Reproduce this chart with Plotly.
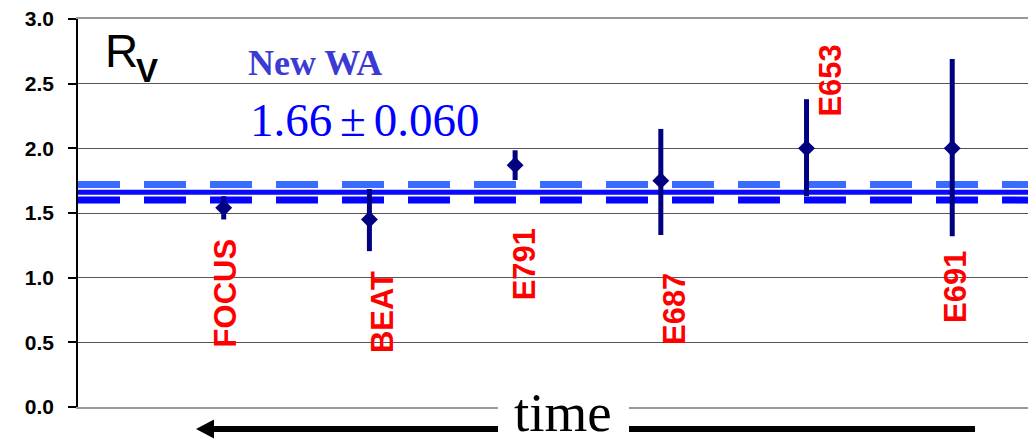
import plotly.graph_objects as go

# Measurements of R_V by experiment (ordered along the time axis)
experiments = ["FOCUS", "BEAT", "E791", "E687", "E653", "E691"]
rv_values = [1.54, 1.45, 1.87, 1.75, 2.00, 2.00]
rv_err_plus = [0.09, 0.235, 0.115, 0.40, 0.38, 0.69]
rv_err_minus = [0.09, 0.245, 0.115, 0.42, 0.37, 0.68]

# New world average
wa_value = 1.66
wa_error = 0.06

y_ticks = [0.0, 0.5, 1.0, 1.5, 2.0, 2.5, 3.0]

# Label placement (value-axis centre, horizontal pixel shift) for each experiment
label_y = [0.884, 0.737, 1.104, 0.756, 2.52, 0.93]
label_shift = [2, 13, 9, 13, 24, 3]

W, H = 1028, 442
ML, MR, MT, MB = 78, 0, 19, 35
PW, PH = W - ML - MR, H - MT - MB

X_RANGE = [0, 6.52]
xpos = list(range(1, len(experiments) + 1))

ARIAL = "Arial, Liberation Sans"
TIMES = "Times New Roman, Liberation Serif"


def px_x(p):
    return (p - ML) / PW


def px_y(p):
    return (H - MB - p) / PH


fig = go.Figure()

# world-average band: upper/lower dashed bounds and the central value
fig.add_trace(go.Scatter(
    x=X_RANGE, y=[wa_value + wa_error] * 2, mode="lines",
    line=dict(color="#3a6bff", width=7, dash="42px,24px"),
    hoverinfo="skip", showlegend=False))
fig.add_trace(go.Scatter(
    x=X_RANGE, y=[wa_value - wa_error] * 2, mode="lines",
    line=dict(color="#0505ff", width=7, dash="42px,24px"),
    hoverinfo="skip", showlegend=False))
fig.add_trace(go.Scatter(
    x=X_RANGE, y=[wa_value] * 2, mode="lines",
    line=dict(color="#0a0aff", width=5),
    hoverinfo="skip", showlegend=False))

# measurements with error bars
fig.add_trace(go.Scatter(
    x=xpos, y=rv_values, mode="markers",
    marker=dict(symbol="diamond", size=13, color="#000080"),
    error_y=dict(type="data", symmetric=False, array=rv_err_plus,
                 arrayminus=rv_err_minus, color="#000080",
                 thickness=5, width=0),
    text=experiments, showlegend=False))

annotations = []
for xp, name, ly, sh in zip(xpos, experiments, label_y, label_shift):
    annotations.append(dict(
        x=xp, y=ly, xref="x", yref="y", text=name, showarrow=False,
        textangle=-90, xshift=sh,
        font=dict(family=ARIAL, size=31, color="#ff0000", weight="bold")))

annotations += [
    # R_V symbol: "R" with a bold subscript "V"
    dict(x=px_x(103), y=px_y(51), xref="paper", yref="paper",
         xanchor="left", yanchor="middle", showarrow=False, text="R",
         font=dict(family=ARIAL, size=46, color="#000000")),
    dict(x=px_x(134), y=px_y(71), xref="paper", yref="paper",
         xanchor="left", yanchor="middle", showarrow=False, text="V",
         font=dict(family=ARIAL, size=33, color="#000000", weight="bold")),
    dict(x=px_x(246), y=px_y(63), xref="paper", yref="paper",
         xanchor="left", yanchor="middle", showarrow=False, text="New WA",
         font=dict(family=TIMES, size=36, color="#3b3bd4", weight="bold")),
    dict(x=px_x(248), y=px_y(120), xref="paper", yref="paper",
         xanchor="left", yanchor="middle", showarrow=False,
         text="1.66\u2006\u00b1\u20060.060",
         font=dict(family=TIMES, size=47, color="#0000ff")),
    dict(x=px_x(563), y=px_y(412), xref="paper", yref="paper",
         xanchor="center", yanchor="middle", showarrow=False, text="time",
         font=dict(family=TIMES, size=55, color="#000000")),
]

shapes = [
    # gap in the bottom axis line behind the "time" label
    dict(type="rect", xref="paper", yref="paper", layer="above",
         x0=px_x(498), x1=px_x(629), y0=px_y(412), y1=px_y(401),
         fillcolor="#ffffff", line=dict(width=0)),
    # time arrow shaft and head
    dict(type="line", xref="paper", yref="paper",
         x0=px_x(210), x1=px_x(498), y0=px_y(429), y1=px_y(429),
         line=dict(color="#000000", width=6)),
    dict(type="line", xref="paper", yref="paper",
         x0=px_x(629), x1=px_x(975), y0=px_y(429), y1=px_y(429),
         line=dict(color="#000000", width=6)),
    dict(type="path", xref="paper", yref="paper",
         path=(f"M {px_x(196)} {px_y(429)} L {px_x(214)} {px_y(419.5)} "
               f"L {px_x(214)} {px_y(438.5)} Z"),
         fillcolor="#000000", line=dict(width=0)),
]

fig.update_layout(
    width=W, height=H,
    margin=dict(l=ML, r=MR, t=MT, b=MB, pad=0),
    paper_bgcolor="#ffffff", plot_bgcolor="#ffffff",
    showlegend=False,
    annotations=annotations,
    shapes=shapes,
    xaxis=dict(range=X_RANGE, showgrid=False, zeroline=False,
               showticklabels=False, ticks="",
               showline=True, mirror=True, linecolor="#999999", linewidth=2),
    yaxis=dict(range=[0, 3], tickvals=y_ticks,
               ticktext=[f"{v:.1f}" for v in y_ticks],
               showgrid=True, gridcolor="#555555", gridwidth=1,
               zeroline=False, showline=True, linecolor="#000000",
               linewidth=1.5, ticks="outside", ticklen=8,
               tickcolor="#000000", tickwidth=1.5, ticklabelstandoff=10,
               tickfont=dict(family=ARIAL, size=21, color="#000000",
                             weight="bold")),
)

fig.write_html("out.html")
